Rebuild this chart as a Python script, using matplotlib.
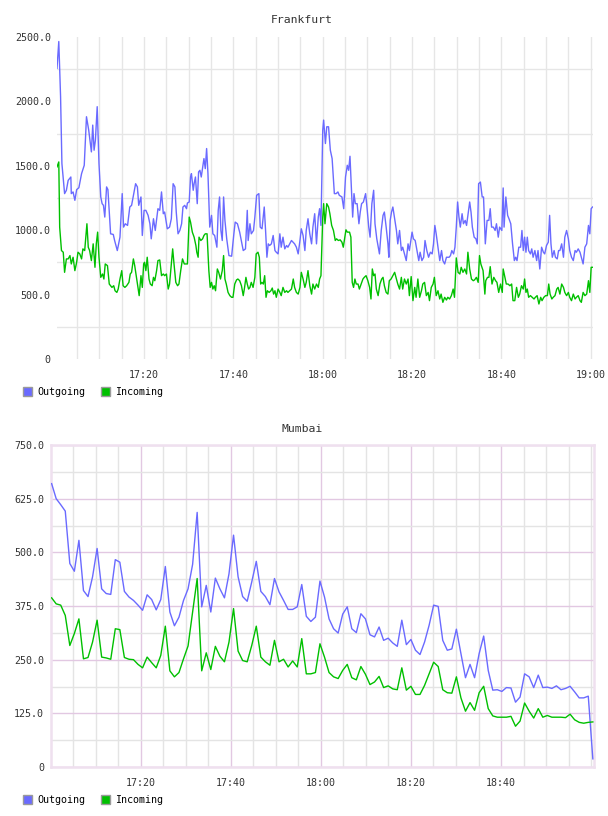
import numpy as np
import matplotlib
matplotlib.use("Agg")
import matplotlib.pyplot as plt
from matplotlib.patches import Patch

# ---- data -------------------------------------------------------------
# time axis: minutes after 17:00
time_ticks = [20, 40, 60, 80, 100, 120]
time_labels = ["17:20", "17:40", "18:00", "18:20", "18:40", "19:00"]

# Frankfurt outgoing (minute, value)
fra_out_min = [
    0.5, 0.9, 1.3, 1.6, 2.2, 2.6, 3.0, 3.6, 3.7, 4.1, 4.5, 4.9, 5.4, 6.0, 6.6, 7.1, 7.6, 8.2, 8.5, 8.8,
    9.1, 9.5, 9.9, 10.3, 10.6, 10.9, 11.2, 11.6, 11.9, 12.5, 13.1, 13.4, 14.0, 14.6, 15.1, 15.4, 15.8, 16.3, 16.8, 17.2,
    17.7, 18.1, 18.5, 18.8, 19.3, 19.6, 20.0, 20.4, 20.9, 21.3, 21.6, 22.1, 22.5, 23.1, 23.5, 23.9, 24.3, 24.6, 25.2, 25.7,
    26.1, 26.5, 26.9, 27.2, 27.6, 28.0, 28.4, 28.7, 29.1, 29.5, 29.7, 30.1, 30.4, 30.6, 31.0, 31.2, 31.5, 31.9, 32.2, 32.5,
    32.8, 33.4, 33.7, 34.0, 34.3, 34.7, 35.1, 35.4, 35.8, 36.3, 36.6, 36.9, 37.2, 37.5, 37.8, 38.1, 38.5, 39.0, 39.6, 40.1,
    40.4, 40.9, 41.4, 41.9, 42.2, 42.7, 43.1, 43.3, 43.7, 44.0, 44.5, 44.8, 45.2, 45.7, 46.0, 46.4, 46.9, 47.2, 47.5, 47.8,
    48.1, 48.5, 48.9, 49.3, 49.6, 50.0, 50.4, 50.7, 51.1, 51.5, 51.9, 52.2, 53.0, 53.7, 54.1, 54.5, 54.9, 55.2, 55.6, 56.0,
    56.3, 56.7, 57.1, 57.5, 57.8, 58.2, 58.6, 59.0, 59.3, 59.6,
    60.0, 60.2, 60.6, 60.9, 61.3, 61.7, 62.1, 62.6, 63.0, 63.4, 63.7, 64.3, 64.7, 65.1, 65.5, 65.8, 66.1, 66.4, 66.7, 67.0,
    67.3, 67.7, 68.1, 68.4, 68.7, 69.1, 69.6, 69.9, 70.3, 70.6, 71.0, 71.4, 71.7, 72.1, 72.3, 72.7, 73.1, 73.5, 73.8, 74.2,
    74.6, 74.8, 75.1, 75.4, 75.7, 76.2, 76.5, 76.8, 77.2, 77.6, 77.9, 78.3, 78.7, 79.1, 79.4, 80.0, 80.3, 80.7, 81.1, 81.5,
    81.8, 82.2, 82.6, 82.9, 83.3, 83.7, 84.1, 84.5, 84.8, 85.1, 85.4, 85.8, 86.2, 86.6, 86.9, 87.3, 87.7, 88.3, 88.6, 88.9,
    89.3, 89.6, 89.9, 90.2, 90.5, 90.8, 91.2, 91.5, 91.9, 92.2, 92.5, 92.9, 93.2, 93.5, 93.9, 94.3, 94.6, 94.9, 95.3, 95.7,
    96.0, 96.4, 96.8, 97.2, 97.5, 97.8, 98.2, 98.6, 98.9, 99.3, 99.6, 100.1, 100.4, 100.6, 101.0, 101.4, 101.7, 102.1, 102.5, 102.9,
    103.2, 103.5, 103.9, 104.3, 104.6, 104.9, 105.2, 105.5, 105.8, 106.1, 106.5, 106.8, 107.1, 107.5, 107.9, 108.2, 108.6, 109.0, 109.4, 109.7,
    110.1, 110.5, 110.8, 111.1, 111.4, 111.8, 112.1, 112.5, 112.8, 113.1, 113.5, 113.9, 114.2, 114.6, 115.0, 115.3, 115.7, 116.1, 116.5, 116.8,
    117.2, 117.6, 117.9, 118.3, 118.7, 119.1, 119.5, 119.8, 120.1, 120.4,
]
fra_out = [
    2257, 2465, 2037, 1517, 1284, 1310, 1387, 1413, 1284, 1297, 1232, 1315, 1330, 1439, 1504, 1881, 1777, 1608, 1816, 1621,
    1699, 1959, 1517, 1258, 1206, 1193, 1102, 1336, 1315, 972, 967, 920, 842, 946, 1284, 1024, 1050, 1037, 1180, 1193,
    1284, 1361, 1336, 1193, 1258, 959, 1154, 1154, 1115, 1050, 933, 1089, 998, 1167, 1154, 1297, 1128, 1141, 1011, 1024,
    1089, 1361, 1336, 1141, 972, 998, 1050, 1180, 1193, 1167, 1211, 1219, 1413, 1439, 1310, 1361, 1413, 1206, 1452, 1465,
    1413, 1556, 1478, 1634, 1439, 1024, 1115, 972, 959, 868, 1154, 1258, 998, 920, 1258, 1076, 933, 803, 798, 972,
    1063, 1050, 985, 894, 842, 855, 1154, 920, 1050, 972, 998, 1102, 1271, 1284, 1024, 1011, 1180, 998, 790, 894,
    881, 894, 959, 842, 829, 816, 972, 868, 946, 855, 881, 868, 920, 894, 868, 816, 920, 1011, 959, 842,
    998, 1089, 972, 894, 1024, 1128, 894, 1102, 1167, 1037,
    1777, 1855, 1673, 1803, 1803, 1621, 1556, 1284, 1284, 1297, 1271, 1258, 1167, 1413, 1504, 1465, 1574, 1336, 1102, 1284,
    1206, 1206, 1050, 1141, 1206, 1219, 1284, 1180, 1024, 946, 1206, 1310, 1050, 933, 894, 816, 998, 1115, 1141, 1024,
    894, 790, 1076, 1141, 1180, 1063, 998, 894, 998, 842, 868, 816, 764, 894, 842, 985, 933, 920, 842, 764,
    829, 764, 790, 920, 842, 790, 829, 816, 894, 1037, 972, 868, 764, 842, 764, 738, 790, 790, 803, 842,
    816, 868, 1024, 1219, 1102, 1024, 1128, 1050, 1076, 1037, 1115, 1219, 1141, 1024, 946, 933, 894, 1361, 1374, 1258,
    1258, 894, 1076, 1076, 1167, 1024, 1024, 998, 1050, 946, 1024, 998, 1328, 1024, 1258, 1115, 1089, 1050, 894, 764,
    790, 764, 868, 868, 998, 842, 946, 829, 946, 842, 816, 855, 790, 842, 764, 842, 699, 868, 829, 816,
    881, 907, 1115, 894, 790, 842, 790, 777, 842, 842, 894, 790, 946, 998, 933, 842, 790, 764, 842, 829,
    855, 829, 790, 738, 868, 894, 1037, 972, 1167, 1180,
]

# Frankfurt incoming (minute, value)
fra_in_min = [
    0.5, 0.9, 1.1, 1.5, 1.9, 2.2, 2.6, 3.0, 3.4, 3.7, 4.1, 4.5, 4.9, 5.2, 5.6, 6.0, 6.3, 6.7, 7.2, 7.5,
    7.8, 8.2, 8.6, 9.0, 9.3, 9.6, 9.9, 10.3, 10.7, 11.0, 11.3, 11.8, 12.2, 12.5, 12.8, 13.2, 13.5, 13.9, 14.2, 14.6,
    15.0, 15.3, 15.7, 16.1, 16.6, 16.9, 17.2, 17.6, 17.9, 18.3, 18.7, 18.9, 19.3, 19.6, 19.9, 20.1, 20.4, 20.7, 21.1, 21.4,
    21.8, 22.1, 22.4, 22.8, 23.1, 23.5, 23.9, 24.3, 24.6, 25.0, 25.4, 25.7, 26.1, 26.4, 26.7, 27.1, 27.5, 27.8, 28.2, 28.6,
    29.0, 29.3, 29.7, 30.1, 30.4, 30.8, 31.2, 31.6, 31.8, 32.1, 32.3, 32.7, 33.1, 33.4, 33.7, 34.1, 34.5, 34.8, 35.1, 35.4,
    35.7, 36.0, 36.4, 36.7, 37.1, 37.5, 37.8, 38.1, 38.4, 38.8, 39.2, 39.6, 39.9, 40.3, 40.7, 41.0, 41.4, 41.8, 42.2, 42.5,
    42.8, 43.1, 43.4, 43.7, 44.0, 44.4, 44.8, 45.1, 45.5, 45.8, 46.1, 46.4, 46.7, 47.0, 47.3, 47.6, 48.0, 48.4, 48.7, 49.0,
    49.3, 49.6, 50.0, 50.4, 50.7, 51.1, 51.5, 51.9, 52.2, 52.6, 53.0, 53.4, 53.7, 54.1, 54.5, 54.9, 55.2, 55.6, 56.0, 56.3,
    56.7, 57.1, 57.5, 57.8, 58.2, 58.6, 59.0, 59.3, 59.6,
    60.0, 60.2, 60.5, 60.9, 61.3, 61.6, 62.0, 62.4, 62.8, 63.1, 63.5, 63.9, 64.3, 64.6, 65.0, 65.2, 65.5, 66.0, 66.3, 66.6,
    66.9, 67.2, 67.5, 67.9, 68.2, 68.6, 69.0, 69.3, 69.7, 70.1, 70.5, 70.8, 71.1, 71.4, 71.7, 72.0, 72.4, 72.8, 73.2, 73.5,
    73.8, 74.2, 74.6, 74.9, 75.3, 75.7, 76.1, 76.5, 76.8, 77.2, 77.6, 77.9, 78.3, 78.7, 79.1, 79.4, 79.8, 80.2, 80.6, 80.9,
    81.3, 81.7, 82.1, 82.4, 82.8, 83.2, 83.6, 83.9, 84.3, 84.7, 85.0, 85.4, 85.8, 86.2, 86.5, 86.9, 87.3, 87.7, 88.0, 88.4,
    88.8, 89.2, 89.5, 89.9, 90.3, 90.7, 91.0, 91.4, 91.8, 92.2, 92.5, 92.9, 93.3, 93.7, 94.0, 94.4, 94.8, 95.1, 95.4, 95.9,
    96.3, 96.5, 96.9, 97.2, 97.5, 97.9, 98.3, 98.7, 99.0, 99.4, 99.8, 100.2, 100.4, 100.8, 101.1, 101.5, 101.9, 102.3, 102.6, 103.0,
    103.4, 103.8, 104.1, 104.5, 104.9, 105.2, 105.5, 105.8, 106.1, 106.5, 106.9, 107.3, 107.6, 108.0, 108.4, 108.8, 109.1, 109.5, 109.9, 110.3,
    110.6, 110.9, 111.3, 111.6, 112.0, 112.4, 112.7, 113.1, 113.5, 113.9, 114.2, 114.6, 115.0, 115.3, 115.7, 116.1, 116.5, 116.8, 117.2, 117.6,
    117.9, 118.3, 118.7, 119.1, 119.5, 119.8, 120.1, 120.4,
]
fra_in = [
    1491, 1530, 1024, 842, 829, 673, 777, 777, 803, 738, 790, 686, 751, 829, 816, 777, 855, 842, 1050, 868,
    842, 764, 894, 712, 894, 985, 790, 634, 660, 621, 738, 725, 582, 569, 556, 569, 530, 517, 543, 621,
    686, 569, 556, 569, 595, 660, 673, 777, 725, 634, 543, 492, 647, 556, 738, 751, 686, 790, 621, 582,
    569, 634, 608, 686, 764, 769, 647, 660, 647, 660, 543, 582, 738, 855, 738, 595, 569, 582, 686, 777,
    738, 738, 738, 1102, 1063, 985, 946, 881, 829, 790, 946, 920, 933, 959, 972, 972, 686, 556, 595, 543,
    569, 530, 699, 673, 621, 686, 803, 621, 582, 517, 492, 479, 479, 582, 614, 621, 608, 569, 492, 556,
    634, 582, 543, 556, 595, 556, 634, 816, 829, 790, 582, 595, 582, 647, 479, 530, 517, 530, 551, 504,
    530, 479, 543, 517, 492, 556, 517, 530, 517, 530, 543, 621, 556, 517, 504, 556, 673, 621, 556, 595,
    686, 569, 504, 582, 543, 582, 556, 621, 647,
    1102, 1206, 1050, 1206, 1180, 1128, 1037, 998, 920, 933, 920, 925, 907, 868, 959, 1003, 985, 985, 946, 595,
    556, 621, 582, 582, 543, 582, 621, 634, 647, 608, 556, 466, 699, 647, 660, 543, 492, 582, 621, 634,
    569, 517, 504, 608, 621, 647, 673, 621, 582, 543, 634, 543, 621, 582, 621, 492, 640, 453, 556, 479,
    621, 479, 530, 582, 595, 492, 517, 453, 556, 582, 634, 492, 530, 466, 504, 440, 479, 458, 479, 466,
    492, 543, 479, 785, 673, 660, 712, 673, 699, 660, 829, 699, 621, 608, 614, 634, 595, 803, 738, 686,
    504, 608, 634, 634, 717, 582, 634, 608, 595, 517, 582, 517, 699, 634, 582, 582, 569, 582, 453, 453,
    556, 479, 504, 569, 543, 621, 517, 543, 479, 492, 479, 466, 479, 492, 427, 479, 453, 479, 492, 492,
    582, 504, 466, 479, 492, 543, 556, 504, 582, 556, 517, 492, 517, 479, 453, 504, 466, 479, 492, 453,
    440, 517, 492, 504, 608, 517, 712, 712,
]

# Mumbai, one sample roughly every minute
mum_out = [
    660, 625, 611, 596, 474, 456, 528, 411, 397, 443, 509, 415, 404, 402, 483, 477, 409, 396, 388, 377,
    365, 401, 390, 366, 390, 467, 361, 329, 349, 388, 415, 472, 593, 373, 423, 361, 440, 415, 394, 450,
    540, 443, 397, 386, 431, 479, 409, 397, 378, 439, 408, 388, 367, 367, 373, 425, 351, 339, 349, 433,
    396, 345, 322, 312, 356, 373, 322, 313, 357, 345, 308, 303, 326, 295, 300, 289, 281, 342, 285, 297,
    272, 262, 291, 330, 377, 374, 295, 272, 275, 321, 264, 208, 239, 208, 264, 305, 225, 179, 180, 176,
    185, 184, 151, 163, 217, 210, 185, 214, 185, 186, 183, 189, 180, 183, 188, 175, 161, 161, 165, 19,
]
mum_in = [
    394, 380, 377, 353, 283, 311, 345, 252, 255, 291, 342, 256, 254, 251, 322, 320, 255, 251, 250, 239,
    231, 256, 243, 231, 260, 328, 224, 210, 220, 252, 282, 361, 439, 224, 266, 227, 281, 258, 245, 291,
    369, 270, 248, 245, 283, 328, 256, 245, 237, 295, 245, 251, 233, 247, 233, 299, 217, 217, 220, 287,
    256, 220, 210, 206, 225, 239, 208, 203, 234, 216, 192, 198, 211, 185, 189, 182, 180, 231, 179, 188,
    169, 169, 190, 217, 244, 234, 180, 173, 172, 210, 161, 130, 150, 132, 173, 188, 136, 119, 116, 116,
    116, 118, 95, 107, 149, 130, 114, 136, 116, 120, 116, 116, 116, 115, 123, 110, 104, 102, 104, 105,
]
mum_min = 0.2 + 1.01 * np.arange(len(mum_out))

OUT_COLOR = "#6a6aff"
IN_COLOR = "#00c000"
MONO = "DejaVu Sans Mono"
TXT = "#333333"

fig = plt.figure(figsize=(6.08, 8.16), dpi=100)
W, H = 608.0, 816.0


def box(left, top, right, bottom):
    return [left / W, 1 - bottom / H, (right - left) / W, (bottom - top) / H]


def style_ticks(ax, ylabels):
    ax.tick_params(which="both", length=0, labelsize=7.2, colors=TXT)
    ax.tick_params(axis="y", pad=4.5)
    ax.tick_params(axis="x", pad=8)
    for lab in ax.get_xticklabels() + ax.get_yticklabels():
        lab.set_fontfamily(MONO)


def add_legend(y_px):
    handles = [Patch(facecolor=OUT_COLOR, edgecolor="#9a9a9a", lw=1.0),
               Patch(facecolor=IN_COLOR, edgecolor="#9a9a9a", lw=1.0)]
    fig.legend(handles, ["Outgoing", "Incoming"], loc="center left",
               bbox_to_anchor=(23 / W, 1 - y_px / H), ncol=2, frameon=False,
               prop={"family": MONO, "size": 7.2}, handlelength=0.9,
               handleheight=1.0, handletextpad=0.5, columnspacing=1.6,
               borderpad=0, borderaxespad=0)


# ---- Frankfurt --------------------------------------------------------
ax1 = fig.add_axes(box(57, 37, 592.5, 359))
ax1.plot(fra_out_min, fra_out, color=OUT_COLOR, lw=1.0, zorder=3)
ax1.plot(fra_in_min, fra_in, color=IN_COLOR, lw=1.0, zorder=3)
ax1.set_xlim(0.5, 120.4)
ax1.set_ylim(0, 2500)
ax1.set_xticks(time_ticks)
ax1.set_xticklabels(time_labels)
ax1.set_xticks(np.arange(5, 121, 5), minor=True)
yt1 = [0, 500, 1000, 1500, 2000, 2500]
ax1.set_yticks(yt1)
ax1.set_yticklabels(["0"] + ["%.1f" % v for v in yt1[1:]])
ax1.set_yticks([250, 750, 1250, 1750, 2250], minor=True)
ax1.grid(False)
ax1.grid(True, which="both", axis="x", color="#e6e6e6", lw=1.0, zorder=0)
ax1.grid(True, which="minor", axis="y", color="#e6e6e6", lw=1.0, zorder=0)
for s in ax1.spines.values():
    s.set_visible(False)
style_ticks(ax1, yt1)
fig.text(302 / W, 1 - 20 / H, "Frankfurt", ha="center", va="center",
         family=MONO, fontsize=8.2, color=TXT)
add_legend(392)

# ---- Mumbai -----------------------------------------------------------
ax2 = fig.add_axes(box(50.5, 445, 594, 767))
ax2.plot(mum_min, mum_out, color=OUT_COLOR, lw=1.0, zorder=3)
ax2.plot(mum_min, mum_in, color=IN_COLOR, lw=1.0, zorder=3)
ax2.set_xlim(-0.05, 120.65)
ax2.set_ylim(0, 750)
ax2.set_xticks(time_ticks[:5])
ax2.set_xticklabels(time_labels[:5])
ax2.set_xticks(np.arange(5, 121, 5), minor=True)
yt2 = [0, 125, 250, 375, 500, 625, 750]
ax2.set_yticks(yt2)
ax2.set_yticklabels(["0"] + ["%.1f" % v for v in yt2[1:]])
ax2.set_yticks(np.arange(62.5, 750, 125), minor=True)
ax2.grid(True, which="major", color="#e2c8e2", lw=1.0, zorder=0)
ax2.grid(True, which="minor", color="#e4e4e4", lw=1.0, zorder=0)
for s in ax2.spines.values():
    s.set_color("#efe0ef")
    s.set_linewidth(1.8)
style_ticks(ax2, yt2)
fig.text(302 / W, 1 - 429 / H, "Mumbai", ha="center", va="center",
         family=MONO, fontsize=8.2, color=TXT)
add_legend(800)

fig.savefig("out.png", dpi=100)
